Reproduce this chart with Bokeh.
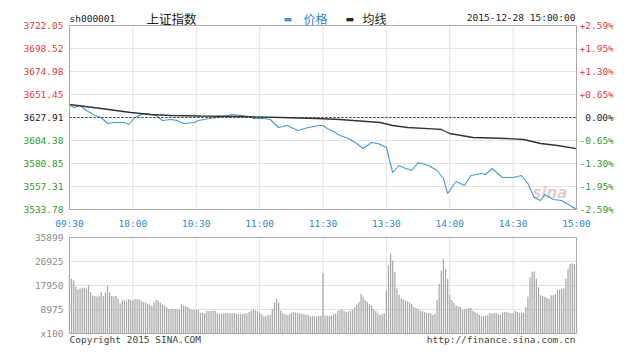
from bokeh.plotting import figure
from bokeh.models import Range1d
from bokeh.layouts import column
from bokeh.core.properties import value
from bokeh.embed import file_html
from bokeh.resources import INLINE

# ---------------- data ----------------
prev_close = 3627.91

price_minutes = [0, 2, 5, 8, 12, 15, 18, 21, 26, 28, 31, 34, 37, 41, 44, 48, 51, 54, 59, 61,
                 66, 70, 73, 77, 81, 85, 87, 92, 95, 99, 103, 106, 108, 113, 118, 120, 122, 125,
                 128, 132, 136, 139, 143, 146, 150, 153, 156, 158, 162, 165, 170, 174, 177, 179,
                 183, 187, 190, 195, 197, 200, 205, 210, 214, 217, 220, 223, 225, 229, 233, 237, 240]
price_values = [3641.22, 3638.15, 3640.19, 3635.08, 3629.96, 3627.91, 3621.77, 3622.80, 3622.80, 3620.75,
                3627.91, 3630.98, 3632.01, 3629.96, 3624.85, 3625.87, 3624.85, 3621.77, 3622.80, 3624.85,
                3626.89, 3627.91, 3628.94, 3630.98, 3629.96, 3628.94, 3626.89, 3626.89, 3625.87, 3617.68,
                3619.73, 3616.66, 3614.61, 3617.68, 3619.73, 3619.73, 3616.66, 3613.59, 3609.50, 3606.43,
                3601.31, 3596.17, 3602.33, 3601.31, 3597.22, 3571.64, 3578.80, 3576.75, 3573.68, 3581.87,
                3578.80, 3573.68, 3565.50, 3550.15, 3562.43, 3558.34, 3568.57, 3570.62, 3569.59, 3575.73,
                3566.52, 3566.52, 3568.57, 3560.38, 3546.05, 3542.99, 3549.13, 3543.99, 3542.99, 3537.87,
                3533.78]

avg_minutes = [0, 15, 29, 38, 48, 62, 81, 100, 117, 128, 147, 153, 160, 172, 176, 180, 191, 207, 215, 223, 231, 240]
avg_values = [3641.22, 3637.13, 3633.03, 3630.98, 3629.96, 3629.45, 3628.94, 3627.91, 3626.89, 3625.87,
              3622.80, 3619.73, 3617.68, 3616.20, 3615.64, 3611.55, 3607.46, 3606.43, 3605.40, 3601.31,
              3599.26, 3596.17]

volume = [
    21700, 20500, 19800, 17500, 16500, 16800, 17000, 17200, 16900, 18000,
    15400, 14200, 14000, 13800, 14100, 15400, 14000, 15300, 17900, 15400,
    14000, 13900, 14100, 13000, 11200, 12400, 12300, 12400, 12800, 12600,
    12400, 13000, 12700, 12800, 12200, 11800, 11600, 11100, 10800, 10300,
    11600, 12400, 12300, 11500, 10800, 10500, 9800, 9200, 9300, 9200,
    9200, 9100, 8900, 10800, 10500, 10200, 9900, 9300, 8900, 8900,
    8900, 8800, 7600, 7700, 7600, 8500, 8400, 8500, 8600, 8500,
    7600, 7500, 7200, 7600, 7700, 7600, 7500, 7600, 7600, 7400,
    7200, 7200, 7300, 7600, 7600, 7900, 8500, 8900, 8700, 8500,
    7600, 7200, 6400, 6600, 6900, 6900, 9200, 11600, 13000, 11600,
    8500, 7600, 7200, 6900, 7100, 7600, 8100, 7800, 7600, 7600,
    7400, 7200, 7000, 6900, 6400, 6600, 6500, 6400, 6500, 6600,
    22500,
    6700, 6700, 6600, 6700, 7200, 7500, 8500, 8800, 9200, 8500,
    7900, 8200, 8500, 9000, 9900, 10800, 11800, 14900, 13700, 12500,
    11800, 11000, 10500, 9200, 8400, 7600, 6900, 7200, 7600, 16000,
    25400, 29900, 27300, 22900, 16800, 14500, 13200, 12800, 12400, 12000,
    11600, 11000, 9900, 9500, 9200, 8500, 8300, 8100, 7600, 7600,
    7600, 6900, 7400, 12400, 18500, 23600, 28000, 24200, 20500, 14300,
    12400, 11500, 10500, 10200, 9900, 8900, 9100, 9200, 9400, 9500,
    8500, 8000, 7600, 6900, 6400, 6500, 6600, 7000, 7600, 7600,
    7600, 7600, 7200, 7000, 7900, 8000, 8100, 7800, 7600, 7600,
    8500, 8000, 7600, 7600, 7600, 9900, 13700, 21000, 23000, 23300,
    20500, 17300, 14300, 14000, 13700, 13300, 13000, 14300, 14300, 14900,
    16300, 16400, 16800, 16800, 20500, 24200, 26000, 26300, 26000, 25000,
]
vol_minutes = list(range(len(volume)))

price_levels = [3722.05, 3698.52, 3674.98, 3651.45, 3627.91, 3604.38, 3580.85, 3557.31, 3533.78]
price_labels = ["3722.05", "3698.52", "3674.98", "3651.45", "3627.91", "3604.38", "3580.85", "3557.31", "3533.78"]
pct_labels = ["+2.59%", "+1.95%", "+1.30%", "+0.65%", "0.00%", "-0.65%", "-1.30%", "-1.95%", "-2.59%"]

time_ticks = [0, 30, 60, 90, 120, 150, 180, 210, 240]
time_labels = ["09:30", "10:00", "10:30", "11:00", "11:30", "13:30", "14:00", "14:30", "15:00"]

vol_levels = [35899, 26925, 17950, 8975, 0]
vol_labels = ["35899", "26925", "17950", "8975", "x100"]

title_code = "sh000001"
title_name = "上证指数"
legend_price = "价格"
legend_avg = "均线"
stamp = "2015-12-28 15:00:00"
footer_left = "Copyright 2015 SINA.COM"
footer_right = "http://finance.sina.com.cn"

# ---------------- style / layout ----------------
MONO = "DejaVu Sans Mono"
CJK = "Noto Sans CJK SC"
FS = "9.5px"
RED = "#e23c3c"
GREEN = "#2f9a2f"
BLACK = "#222222"
BLUE = "#2f86c8"
LINE_BLUE = "#4797d6"
GRID = "#e2e2e2"
BORDER = "#a8a8a8"
CHAR_W = 5.7

W = 640
PAD_L, PAD_R = 69, 64
FRAME_W = W - PAD_L - PAD_R
k = FRAME_W / 240.0  # px per minute
x_lo_ext = 0 - PAD_L / k
x_hi_ext = 240 + PAD_R / k

def mx(px):
    return (px - PAD_L) / k

y_lo, y_hi = price_levels[-1], price_levels[0]
H1, TOP1, BOT1 = 232, 25, 23
s1 = (y_hi - y_lo) / (H1 - TOP1 - BOT1)

p = figure(width=W, height=H1, x_range=Range1d(x_lo_ext, x_hi_ext),
           y_range=Range1d(y_lo - BOT1 * s1, y_hi + TOP1 * s1),
           output_backend="svg", toolbar_location=None,
           x_axis_location=None, y_axis_location=None, min_border=0)
p.outline_line_color = None
p.grid.visible = False
p.background_fill_color = "white"
p.border_fill_color = "white"

inner_t = time_ticks[1:-1]
inner_p = price_levels[1:-1]
p.segment(x0=inner_t, x1=inner_t, y0=[y_lo] * len(inner_t), y1=[y_hi] * len(inner_t),
          line_color=GRID, line_width=1)
p.segment(x0=[0] * len(inner_p), x1=[240] * len(inner_p), y0=inner_p, y1=inner_p,
          line_color=GRID, line_width=1)

p.text(x=[mx(532)], y=[3551], text=["sina"], text_font=value("DejaVu Sans"),
       text_font_style="bold italic", text_font_size=value("15px"), text_color="#cf9d9d",
       text_alpha=0.55, text_baseline=value("middle"), text_align=value("left"))

p.line(price_minutes, price_values, line_color=LINE_BLUE, line_width=1.1)
p.line(avg_minutes, avg_values, line_color="#333333", line_width=1.3)
p.line([0, 240], [prev_close, prev_close], line_color="#333333", line_dash="2 2", line_width=1)

p.quad(left=[0], right=[240], bottom=[y_lo], top=[y_hi], fill_color=None, line_color=BORDER, line_width=1)

def colour(lev):
    if lev > prev_close + 0.001:
        return RED
    if lev < prev_close - 0.001:
        return GREEN
    return BLACK

cols = [colour(l) for l in price_levels]
p.text(x=[0] * 9, y=price_levels, text=price_labels, x_offset=-6, text_align=value("right"),
       text_baseline=value("middle"), text_font=value(MONO), text_font_size=value(FS), text_color=cols)
pct_off = [3 if s[0] in "+-" else 3 + CHAR_W for s in pct_labels]
p.text(x=[240] * 9, y=price_levels, text=pct_labels, x_offset=pct_off, text_align=value("left"),
       text_baseline=value("middle"), text_font=value(MONO), text_font_size=value(FS), text_color=cols)
p.text(x=time_ticks, y=[y_lo] * 9, text=time_labels, y_offset=14, text_align=value("center"),
       text_baseline=value("middle"), text_font=value(MONO), text_font_size=value(FS), text_color=BLUE)

# header
def head(xpos, txt, font, size, color, align="left", yo=-7):
    p.text(x=[xpos], y=[y_hi], text=[txt], y_offset=yo, text_align=value(align),
           text_baseline=value("middle"), text_font=value(font), text_font_size=value(size),
           text_color=color)

head(0, title_code, MONO, FS, BLACK)
head(mx(146), title_name, CJK, "12.5px", BLACK)
head(mx(283), "\u25ac", "DejaVu Sans", "9px", LINE_BLUE)
head(mx(303), legend_price, CJK, "12px", BLUE)
head(mx(345), "\u25ac", "DejaVu Sans", "9px", BLACK)
head(mx(362), legend_avg, CJK, "12px", BLACK)
head(mx(575), stamp, MONO, FS, BLACK, align="right", yo=-8)

# ---------------- volume ----------------
H2, TOP2, BOT2 = 122, 5, 21
v_hi = vol_levels[0]
s2 = v_hi / (H2 - TOP2 - BOT2)
v = figure(width=W, height=H2, x_range=Range1d(x_lo_ext, x_hi_ext),
           y_range=Range1d(0 - BOT2 * s2, v_hi + TOP2 * s2),
           output_backend="svg", toolbar_location=None,
           x_axis_location=None, y_axis_location=None, min_border=0)
v.outline_line_color = None
v.grid.visible = False
v.background_fill_color = "white"
v.border_fill_color = "white"

inner_v = vol_levels[1:-1]
v.segment(x0=inner_t, x1=inner_t, y0=[0] * len(inner_t), y1=[v_hi] * len(inner_t),
          line_color=GRID, line_width=1)
v.segment(x0=[0] * len(inner_v), x1=[240] * len(inner_v), y0=inner_v, y1=inner_v,
          line_color=GRID, line_width=1)
v.vbar(x=vol_minutes, top=volume, width=0.6, bottom=0, fill_color="#a9a9a9", line_color=None)
v.quad(left=[0], right=[240], bottom=[0], top=[v_hi], fill_color=None, line_color=BORDER, line_width=1)

v.text(x=[0] * len(vol_levels), y=vol_levels, text=vol_labels, x_offset=-6, text_align=value("right"),
       text_baseline=value("middle"), text_font=value(MONO), text_font_size=value(FS), text_color="#8a8a8a")
v.text(x=[0], y=[0], text=[footer_left], y_offset=6, text_align=value("left"),
       text_baseline=value("middle"), text_font=value(MONO), text_font_size=value(FS), text_color="#444444")
v.text(x=[240], y=[0], text=[footer_right], x_offset=-1, y_offset=6, text_align=value("right"),
       text_baseline=value("middle"), text_font=value(MONO), text_font_size=value(FS), text_color="#444444")

layout = column(p, v, spacing=0)
open("out.html", "w").write(file_html(layout, INLINE))
